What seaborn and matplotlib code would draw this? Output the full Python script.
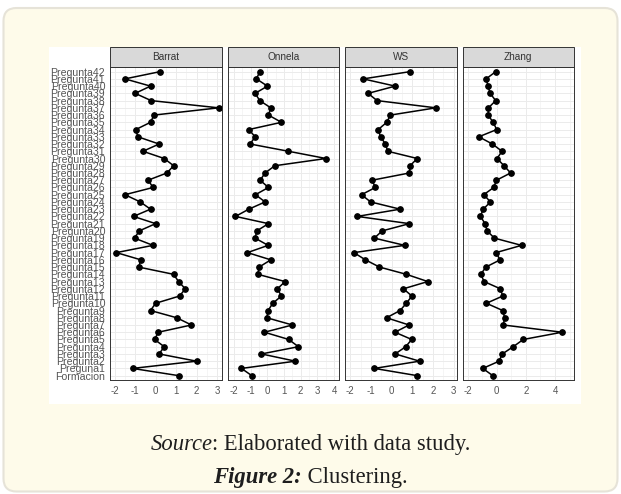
import matplotlib
matplotlib.use("Agg")
import matplotlib.pyplot as plt
import matplotlib.ticker as mticker
from matplotlib.patches import FancyBboxPatch, Rectangle
from matplotlib.transforms import IdentityTransform
import seaborn as sns
import pandas as pd

# categories from bottom (Formacion) to top (Pregunta42)
questions = ["Formacion", "Preguna1"] + [f"Pregunta{i}" for i in range(2, 43)]

barrat = [1.13, -1.13, 2.0, 0.17, 0.42, -0.05, 0.13, 1.75, 1.03, -0.25, 0.0,
          1.17, 1.45, 1.12, 0.88, -0.83, -0.72, -1.92, -0.13, -1.03, -0.8,
          0.0, -1.08, -0.25, -0.75, -1.5, -0.12, -0.37, 0.55, 0.88, 0.42,
          -0.62, 0.17, -0.87, -0.97, -0.25, -0.08, 3.08, -0.22, -1.0, -0.25,
          -1.5, 0.22]
onnela = [-0.94, -1.56, 1.68, -0.36, 1.86, 1.28, -0.18, 1.5, -0.04, 0.04, 0.32,
          0.84, 0.6, 1.06, -0.58, -0.5, 0.2, -1.2, 0.04, -0.74, -0.64,
          0.06, -1.92, -1.12, -0.14, -0.72, 0.06, -0.44, -0.14, 0.44, 3.52,
          1.26, -1.04, -0.74, -1.12, 0.84, 0.06, 0.2, -0.46, -0.74, 0.0,
          -0.66, -0.46]
ws = [1.24, -0.84, 1.35, 0.17, 0.68, 0.97, 0.16, 0.84, -0.25, 0.41, 0.71,
      0.98, 0.57, 1.75, 0.71, -0.59, -1.27, -1.83, 0.63, -0.84, -0.46,
      0.86, -1.67, 0.41, -1.02, -1.46, -0.79, -0.95, 0.86, 0.89, 1.24,
      -0.19, -0.30, -0.54, -0.65, -0.24, -0.06, 2.14, -0.71, -1.14, 0.17,
      -1.38, 0.89]
zhang = [-0.27, -0.96, 0.16, 0.38, 1.13, 1.82, 4.48, 0.45, 0.54, 0.41, -0.71,
         0.41, 0.25, -0.87, -1.09, -0.75, 0.23, -0.05, 1.7, -0.16, -0.66,
         -0.8, -1.12, -0.93, -0.43, -0.89, -0.21, -0.02, 0.95, 0.5, 0.02,
         0.36, -0.3, -1.23, 0.0, -0.25, -0.59, -0.57, -0.07, -0.46, -0.59,
         -0.73, -0.07]

methods = ["Barrat", "Onnela", "WS", "Zhang"]
series = [barrat, onnela, ws, zhang]
xlims = [(-2.23, 3.22), (-2.4, 4.3), (-2.26, 3.14), (-2.35, 5.3)]
xsteps = [1, 1, 1, 2]

df = pd.concat(
    [pd.DataFrame({"method": m, "question": questions, "value": v})
     for m, v in zip(methods, series)],
    ignore_index=True,
)
order = questions[::-1]  # Pregunta42 on top

sns.set_theme(style="white")
plt.rcParams["font.family"] = ["Liberation Sans", "DejaVu Sans"]

W, H = 621, 494
fig = plt.figure(figsize=(W / 100, H / 100), dpi=100)
fig.patch.set_facecolor("white")

# card background and white plot area
fig.add_artist(FancyBboxPatch((3.5, 2.5), 614, 483.5,
                              boxstyle="round,pad=0,rounding_size=13",
                              transform=IdentityTransform(),
                              facecolor="#FEFBEA", edgecolor="#E6E3D8",
                              linewidth=1.5, zorder=-10))
fig.add_artist(Rectangle((49, 90), 532, 357, transform=IdentityTransform(),
                         facecolor="white", edgecolor="none", zorder=-9))

panel_top, panel_bottom = 67.3, 380.0
strip_h = 20.0
left0, pw, gap = 110.0, 111.5, 6.0
ph = panel_bottom - panel_top

for i, (m, lim, step) in enumerate(zip(methods, xlims, xsteps)):
    x0 = left0 + i * (pw + gap)
    ax = fig.add_axes([x0 / W, 1 - panel_bottom / H, pw / W, ph / H])
    ax.set_facecolor("white")
    sns.pointplot(data=df[df["method"] == m], x="value", y="question",
                  order=order, color="black", markers="o", markersize=4.0,
                  linewidth=1.1, errorbar=None, ax=ax)
    ax.set_ylim(42.6, -0.6)
    ax.set_xlim(*lim)
    ax.xaxis.set_major_locator(mticker.MultipleLocator(step))
    ax.xaxis.set_minor_locator(mticker.MultipleLocator(step / 2))
    ax.xaxis.set_major_formatter(mticker.FuncFormatter(lambda v, p: f"{v:g}"))
    ax.grid(which="major", color="#EBEBEB", linewidth=0.7)
    ax.grid(which="minor", axis="x", color="#F2F2F2", linewidth=0.5)
    ax.set_axisbelow(True)
    ax.set_xlabel("")
    ax.set_ylabel("")
    for s in ax.spines.values():
        s.set_color("#333333")
        s.set_linewidth(0.7)
    ax.tick_params(axis="x", which="major", length=2.5, width=0.6,
                   color="#333333", labelsize=7, labelcolor="#555555", pad=1.5)
    ax.tick_params(axis="x", which="minor", length=0)
    if i == 0:
        ax.tick_params(axis="y", length=2.5, width=0.6, color="#333333",
                       labelsize=7.6, labelcolor="#555555", pad=1)
    else:
        ax.tick_params(axis="y", length=0, labelleft=False)
    # facet strip
    sh = strip_h / ph
    ax.add_patch(Rectangle((0, 1), 1, sh, transform=ax.transAxes,
                           clip_on=False, facecolor="#D9D9D9",
                           edgecolor="#333333", linewidth=0.7))
    ax.text(0.5, 1 + sh / 2, m, transform=ax.transAxes, ha="center",
            va="center", fontsize=7.2, color="#333333")

# captions with mixed styles, centered
serif = ["Liberation Serif", "DejaVu Serif"]
fs = 16.3


def centered_line(parts, y):
    texts = []
    for txt, style, weight in parts:
        texts.append(fig.text(0, y / H, txt, fontsize=fs, family=serif,
                              style=style, weight=weight, color="#1E1E1E",
                              va="center", ha="left"))
    fig.canvas.draw()
    r = fig.canvas.get_renderer()
    widths = [t.get_window_extent(r).width for t in texts]
    x = (W - sum(widths)) / 2
    for t, w in zip(texts, widths):
        t.set_x(x / W)
        x += w


centered_line([("Source", "italic", "normal"),
               (": Elaborated with data study.", "normal", "normal")], 50)
centered_line([("Figure 2:", "italic", "bold"),
               (" Clustering.", "normal", "normal")], 17)

fig.savefig("out.png", dpi=100, facecolor=fig.get_facecolor())
